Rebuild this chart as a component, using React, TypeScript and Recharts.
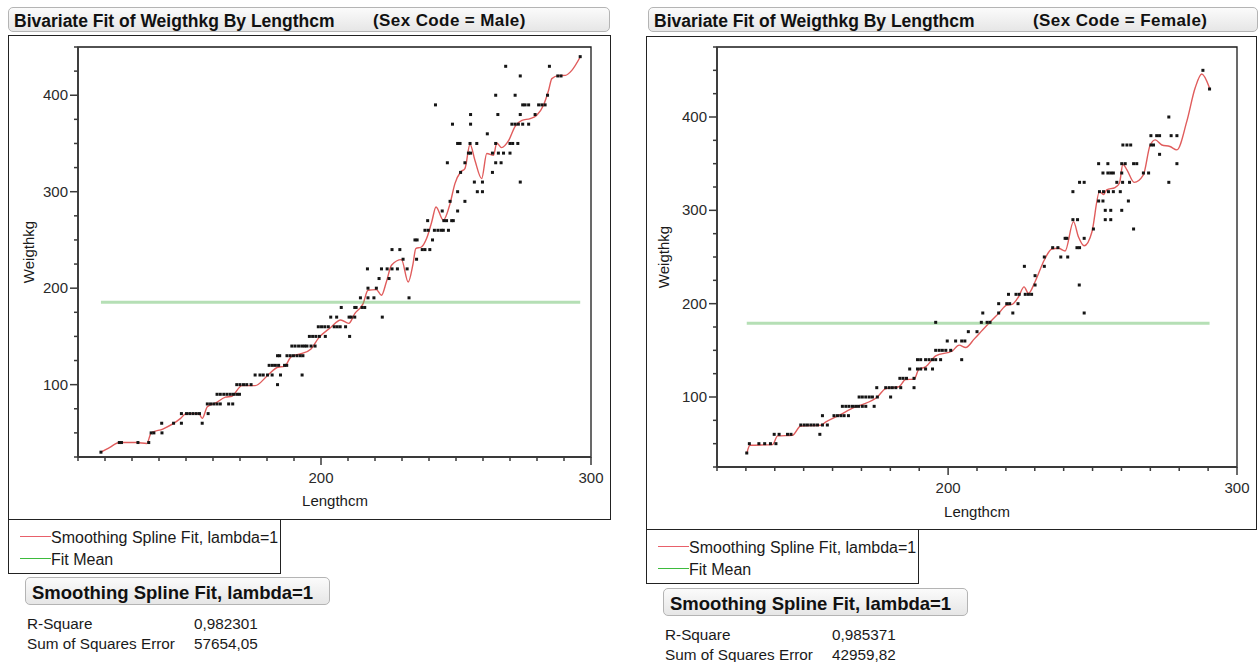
import React from "react";
import { ComposedChart, XAxis, YAxis, Scatter, Line, ReferenceArea } from "recharts";

// Male: weight rows (kg) and the lengths (cm) observed at each row
const maleRows = [
  30, 40, 50, 60, 70, 80, 90, 100, 110, 120, 130, 140, 150, 160, 170, 180, 190, 200, 210, 220,
  230, 240, 250, 260, 270, 280, 290, 300, 310, 320, 330, 340, 350, 360, 370, 380, 390, 400, 420, 430, 440,
];
const maleLengths = [
  [118.5],
  [125.3, 126.1, 132.2, 136.2],
  [137.1, 138.1, 141.1],
  [141, 145.4, 148.3, 156],
  [148.3, 150.2, 151.4, 152.6, 153.8, 155, 158.2],
  [157.9, 159.1, 160.3, 161.5, 162.7, 165.8, 167.3],
  [161.5, 162.7, 164, 165.2, 166.4, 167.6, 168.8, 169.8],
  [168.8, 170, 171.3, 172.5, 174.1, 183.9],
  [175.6, 177.4, 178.6, 180.2, 181.9, 185, 193],
  [180.8, 182, 183.1, 184.3, 186.5, 187.3],
  [183.9, 184.7, 187.4, 188.6, 189.8, 191.1, 192.3, 193.3],
  [189.2, 190.4, 191.7, 192.9, 193.9, 194.8, 196.3, 197.8],
  [195.7, 196.9, 198.1, 199.4, 201.6, 210.6],
  [199, 200.2, 201.4, 202.7, 204.9, 206, 207.1, 209.1],
  [203.6, 205.8, 210.4, 211.2, 212.5, 222.7],
  [207.5, 212.5, 213, 215.2, 216.2],
  [214.6, 217.4, 219.6, 232.6],
  [217.4, 220.5],
  [221.5, 225.2],
  [217.2, 222.4, 224.5, 226.3, 228.3, 231.9],
  [230.4, 235.4],
  [226.3, 229.2, 237.5, 238.5, 240.3],
  [234.8, 235.6, 241.3],
  [238.5, 239.7, 242, 243.3, 244.5, 245.3, 247.2],
  [239.5, 245.5, 246.5, 248.4, 249],
  [244.9, 250.6],
  [247.8, 253.3],
  [250.6, 257.9, 259.8],
  [256.8, 259.8, 273.8],
  [251.7, 263.5],
  [246.8, 253.3, 264.7, 266.7],
  [254.6, 255.4, 263.5, 265.7, 267.6, 270],
  [250.6, 251.5, 255.2, 257.7, 264.7, 270, 271, 272.9],
  [261.6],
  [248.7, 255.4, 270.7, 271.9, 273.1, 274.7, 276.9],
  [255.4, 265.5, 273.8, 279.3],
  [242.4, 274.7, 275.6, 276.9, 280.6, 281.8, 283],
  [264.7, 271.9, 283.9],
  [273.8, 287.7, 288.9],
  [268.4, 284.6],
  [296],
];

// Male smoothing spline (lambda=1)
const maleFitLength = [
  118.5, 121.8, 125.3, 131.6, 135.5, 137.1, 141.4, 148, 150, 154.8, 156, 157.9, 161, 164.6, 167,
  170.7, 175.6, 180.4, 184, 186.5, 189, 192.6, 196.3, 199, 203.5, 207.3, 210.3, 212.5, 215.6, 217.4,
  220.5, 222.4, 224.2, 226.1, 229.8, 232.3, 234.1, 235.1, 237.2, 239.1, 241, 242.6, 245.3, 247.8,
  249.6, 251.7, 253.3, 255.2, 257, 259.5, 261.4, 263.9, 265.1, 266.9, 269.4, 271.9, 274.4, 277.5,
  279.9, 282.4, 284.3, 285.5, 288, 290.5, 292.9, 296,
];
const maleFitWeight = [
  30, 35, 40, 40, 39, 50, 54, 65, 70, 70, 65, 77, 81, 87, 88,
  99, 99, 110, 118, 119, 129, 132, 137, 148, 159, 167, 163.5, 173.6, 184, 197.8,
  198.5, 192.6, 206.4, 223.7, 229.6, 206.4, 225.5, 241, 242.7, 251.4, 268.6, 284.2, 270.4, 287.7,
  308.4, 320.4, 324, 349.2, 332.6, 313.6, 339.6, 337.7, 350.5, 345.7, 352.6, 367.8, 374, 375.8,
  379.2, 389.6, 405.1, 417.2, 420.3, 420.6, 425.8, 439.6,
];
const maleMean = 185.4;
const maleStats = ["0,982301", "57654,05"];

// Female: weight rows (kg) and the lengths (cm) observed at each row
const femaleRows = [
  40, 50, 60, 70, 80, 90, 100, 110, 120, 130, 140, 150, 160, 170, 180, 190, 200, 210, 220,
  230, 240, 250, 260, 270, 280, 290, 300, 310, 320, 330, 340, 350, 360, 370, 380, 400, 430, 450,
];
const femaleLengths = [
  [130.3],
  [131.2, 134.5, 136.5, 138.5, 140.4],
  [139.8, 141.5, 144.4, 145.6, 155.6],
  [149, 150.2, 151.3, 152.5, 153.6, 154.8, 156.5, 158.2],
  [156.5, 160.5, 161.7, 162.9, 164, 165.5],
  [163.4, 164.6, 165.7, 166.9, 168, 169, 170.3, 171.5, 174.4],
  [169.2, 170.3, 171.5, 172.7, 173.8, 175.5, 180.1],
  [175.3, 178.4, 179.6, 180.7, 181.9, 183.6, 188.2],
  [183.3, 184.4, 185.6, 188.2],
  [186.7, 189.4, 190.5, 192.2, 194.6],
  [189.4, 190.5, 192.2, 193.4, 194.6, 195.7, 197.4, 204.7],
  [195.7, 196.9, 198, 199.2, 200.9],
  [199.7, 202.6, 204.7, 205.8],
  [207, 210],
  [195.7, 211.5, 213.5, 214.5],
  [212, 217.5, 222.4, 247.1],
  [217.5, 220.3, 221.3, 224.2],
  [220.9, 223.5, 224.6, 226.7, 227.8, 228.9],
  [230.1, 245.4],
  [230.1],
  [226.4, 233.3],
  [233.3, 239, 241.4],
  [236.2, 238, 244.6, 245.5],
  [240.5, 241.1, 247.1],
  [250.3, 264.2],
  [243.2, 244.8, 254.4, 256.3],
  [254.4, 256.3, 260.1],
  [252.1, 253.6, 262.4],
  [243.2, 252.4, 253.8, 255.5, 257.2, 259.6],
  [245.5, 247.1, 258.4, 260.4, 262.8, 276.4],
  [253.6, 255.3, 256.3, 257.2, 260.1, 267.6, 269.4],
  [252.1, 255.3, 260.1, 261.3, 264.2, 265.3, 279.2],
  [273.2],
  [260.5, 261.9, 263.2, 270.2, 271.1],
  [270.2, 272.2, 273.2, 277.2, 279.2],
  [276.4],
  [290.5],
  [288.2],
];

// Female smoothing spline (lambda=1)
const femaleFitLength = [
  130.3, 131.4, 139.2, 141, 146.1, 149, 155.9, 157.7, 162.3, 168, 170.3, 175.5, 178.4, 183, 185.3,
  188.2, 189.9, 192.2, 195.7, 201.5, 203.8, 206.1, 209, 212, 215.2, 217.5, 220.3, 222.1, 224.4,
  226.3, 227.8, 230.1, 233.3, 235.9, 238.2, 240.5, 243.4, 245.1, 247.1, 249.8, 252.4, 253.8, 254.9,
  257.8, 259.3, 260.5, 261.9, 264.4, 267.6, 269.9, 271.7, 274, 276.8, 279.2, 282.6, 285.5, 287.8, 290.5,
];
const femaleFitWeight = [
  39.5, 48.3, 49, 58.3, 59, 69, 69.7, 73.3, 80.5, 89.4, 91.9, 100, 109, 111, 118.8,
  119, 129.8, 132.3, 144, 149.5, 155.6, 153, 162, 172, 182.4, 189.6, 198.5, 199.2, 207.4,
  218, 211, 223.5, 246.8, 258.6, 259.3, 256.4, 287.9, 271.8, 262.1, 277.1, 320, 317, 322,
  324.4, 329, 349.4, 343.3, 330, 338, 369.4, 375.5, 370, 368.4, 364.8, 395, 431, 446, 431,
];
const femaleMean = 178.9;
const femaleStats = ["0,985371", "42959,82"];

const FONT = "'Liberation Sans', Arial, sans-serif";

type Pt = { x: number; y: number };

const toPoints = (rows: number[], lengths: number[][]): Pt[] =>
  rows.flatMap((w, i) => lengths[i].map((x) => ({ x, y: w })));

const toCurve = (xs: number[], ys: number[]): Pt[] => xs.map((x, i) => ({ x, y: ys[i] }));

const meanSegment = (pts: Pt[], mean: number): Pt[] => {
  const xs = pts.map((p) => p.x);
  return [
    { x: Math.min(...xs), y: mean },
    { x: Math.max(...xs), y: mean },
  ];
};

const steps = (from: number, to: number, step: number) => {
  const out: number[] = [];
  for (let v = from; v <= to; v += step) out.push(v);
  return out;
};

// tick marks are drawn here too: majors every 100 carry a label
const XTick = ({ x, y, payload }: any) => {
  const major = payload.value % 100 === 0;
  return (
    <g>
      <line x1={x} y1={y} x2={x} y2={y + (major ? 8 : 4)} stroke="#3a3a3a" strokeWidth={1.5} />
      {major && (
        <text x={x} y={y + 26} textAnchor="middle" fontSize={15} fontFamily={FONT} fill="#2a2a2a">
          {payload.value}
        </text>
      )}
    </g>
  );
};

const YTick = ({ x, y, payload }: any) => {
  const major = payload.value % 100 === 0;
  return (
    <g>
      <line x1={x - (major ? 8 : 4)} y1={y} x2={x} y2={y} stroke="#3a3a3a" strokeWidth={1.5} />
      {major && (
        <text x={x - 10} y={y + 5} textAnchor="end" fontSize={15} fontFamily={FONT} fill="#2a2a2a">
          {payload.value}
        </text>
      )}
    </g>
  );
};

const Square = ({ cx, cy }: any) => (
  <rect x={cx - 1.5} y={cy - 1.5} width={3} height={3} fill="#151515" />
);

type PlotProps = {
  left: number;
  top: number;
  width: number;
  height: number;
  plotLeft: number;
  plotTop: number;
  plotRight: number;
  plotBottom: number;
  xDomain: [number, number];
  yDomain: [number, number];
  points: Pt[];
  fit: Pt[];
  mean: number;
};

function FitPlot(p: PlotProps) {
  return (
    <div style={{ position: "absolute", left: p.left, top: p.top }}>
      <ComposedChart
        width={p.width}
        height={p.height}
        margin={{ top: p.plotTop, right: p.plotRight, bottom: 0, left: 0 }}
      >
        <XAxis
          type="number"
          dataKey="x"
          domain={p.xDomain}
          ticks={steps(p.xDomain[0], p.xDomain[1], 10)}
          interval={0}
          allowDataOverflow
          height={p.plotBottom}
          tickSize={0}
          tickMargin={0}
          tickLine={false}
          axisLine={{ stroke: "#3a3a3a", strokeWidth: 1.8 }}
          tick={(props: any) => <XTick {...props} />}
        />
        <YAxis
          type="number"
          dataKey="y"
          domain={p.yDomain}
          ticks={steps(p.yDomain[0], p.yDomain[1], 25)}
          interval={0}
          allowDataOverflow
          width={p.plotLeft}
          tickSize={0}
          tickMargin={0}
          tickLine={false}
          axisLine={{ stroke: "#3a3a3a", strokeWidth: 1.8 }}
          tick={(props: any) => <YTick {...props} />}
        />
        <ReferenceArea
          x1={p.xDomain[0]}
          x2={p.xDomain[1]}
          y1={p.yDomain[0]}
          y2={p.yDomain[1]}
          fill="none"
          stroke="#1a1a1a"
          strokeWidth={1.3}
          ifOverflow="visible"
        />
        <Scatter data={p.points} shape={(props: any) => <Square {...props} />} isAnimationActive={false} />
        <Line
          data={p.fit}
          dataKey="y"
          type="monotone"
          stroke="#e05c5c"
          strokeWidth={1.4}
          dot={false}
          activeDot={false}
          isAnimationActive={false}
        />
        <Line
          data={meanSegment(p.points, p.mean)}
          dataKey="y"
          type="linear"
          stroke="#5cb85c"
          strokeOpacity={0.45}
          strokeWidth={3}
          dot={false}
          activeDot={false}
          isAnimationActive={false}
        />
      </ComposedChart>
    </div>
  );
}

const boxHeader: React.CSSProperties = {
  position: "absolute",
  boxSizing: "border-box",
  border: "1px solid #b4b4b4",
  borderRadius: 5,
  background: "linear-gradient(#fbfbfb, #e6e6e6)",
  fontFamily: FONT,
  fontWeight: "bold",
  color: "#111",
  whiteSpace: "nowrap",
};

const frame: React.CSSProperties = {
  position: "absolute",
  boxSizing: "border-box",
  border: "1.5px solid #222",
};

const text = (left: number, top: number, size: number, extra?: React.CSSProperties): React.CSSProperties => ({
  position: "absolute",
  left,
  top,
  fontFamily: FONT,
  fontSize: size,
  color: "#1a1a1a",
  whiteSpace: "nowrap",
  lineHeight: 1,
  ...extra,
});

type PanelProps = {
  x: number;
  sex: string;
  subtitleX: number;
  points: Pt[];
  fit: Pt[];
  mean: number;
  stats: string[];
  plot: Omit<PlotProps, "points" | "fit" | "mean">;
  yTitle: [number, number];
  xTitle: [number, number];
  statsTop: number;
  valueX: number;
};

function Panel(p: PanelProps) {
  const { left, top, width, height } = p.plot;
  return (
    <>
      <div style={{ ...boxHeader, left: p.x, top: 7, width: width - 1, height: 25 }}>
        <span style={{ position: "absolute", left: 5, top: 3, fontSize: 17.5 }}>
          Bivariate Fit of Weigthkg By Lengthcm
        </span>
        <span style={{ position: "absolute", left: p.subtitleX - p.x, top: 3, fontSize: 17, letterSpacing: 0.4 }}>
          (Sex Code = {p.sex})
        </span>
      </div>
      <div style={{ ...frame, left, top, width, height }} />
      <FitPlot {...p.plot} points={p.points} fit={p.fit} mean={p.mean} />
      <div
        style={text(p.yTitle[0], p.yTitle[1], 15, {
          transform: "translate(-50%, -50%) rotate(-90deg)",
        })}
      >
        Weigthkg
      </div>
      <div style={text(p.xTitle[0], p.xTitle[1], 15, { transform: "translate(-50%, -50%)" })}>Lengthcm</div>
      <div
        style={{
          ...frame,
          left,
          top: top + height - 1,
          width: 273,
          height: 55,
          borderTop: "none",
        }}
      >
        <div style={{ position: "absolute", left: 11, top: 17, width: 31, height: 0, borderTop: "1.5px solid #e8606a" }} />
        <div style={text(42, 11, 16)}>Smoothing Spline Fit, lambda=1</div>
        <div style={{ position: "absolute", left: 11, top: 39, width: 31, height: 0, borderTop: "1.5px solid #3dbb3d" }} />
        <div style={text(42, 33, 16)}>Fit Mean</div>
      </div>
      <div style={{ ...boxHeader, left: left + 17, top: p.statsTop, width: 305, height: 28 }}>
        <span style={{ position: "absolute", left: 6, top: 4, fontSize: 18.5 }}>Smoothing Spline Fit, lambda=1</span>
      </div>
      <div style={text(left + 19, p.statsTop + 39, 15.3)}>R-Square</div>
      <div style={text(p.valueX, p.statsTop + 39, 15.3)}>{p.stats[0]}</div>
      <div style={text(left + 19, p.statsTop + 59, 15.3)}>Sum of Squares Error</div>
      <div style={text(p.valueX, p.statsTop + 59, 15.3)}>{p.stats[1]}</div>
    </>
  );
}

export default function App() {
  const malePoints = toPoints(maleRows, maleLengths);
  const femalePoints = toPoints(femaleRows, femaleLengths);
  return (
    <div style={{ position: "absolute", left: 0, top: 0, width: 1258, height: 662, background: "#fff" }}>
      <Panel
        x={8}
        sex="Male"
        subtitleX={372}
        points={malePoints}
        fit={toCurve(maleFitLength, maleFitWeight)}
        mean={maleMean}
        stats={maleStats}
        plot={{
          left: 8,
          top: 35,
          width: 603,
          height: 485,
          plotLeft: 70,
          plotTop: 12,
          plotRight: 20,
          plotBottom: 63,
          xDomain: [110, 300],
          yDomain: [25, 450],
        }}
        yTitle={[28, 252]}
        xTitle={[335, 500]}
        statsTop={577}
        valueX={194}
      />
      <Panel
        x={648}
        sex="Female"
        subtitleX={1032}
        points={femalePoints}
        fit={toCurve(femaleFitLength, femaleFitWeight)}
        mean={femaleMean}
        stats={femaleStats}
        plot={{
          left: 646,
          top: 36,
          width: 611,
          height: 494,
          plotLeft: 71,
          plotTop: 11,
          plotRight: 20,
          plotBottom: 63,
          xDomain: [120, 300],
          yDomain: [25, 475],
        }}
        yTitle={[663, 257]}
        xTitle={[977, 511]}
        statsTop={588}
        valueX={832}
      />
    </div>
  );
}
